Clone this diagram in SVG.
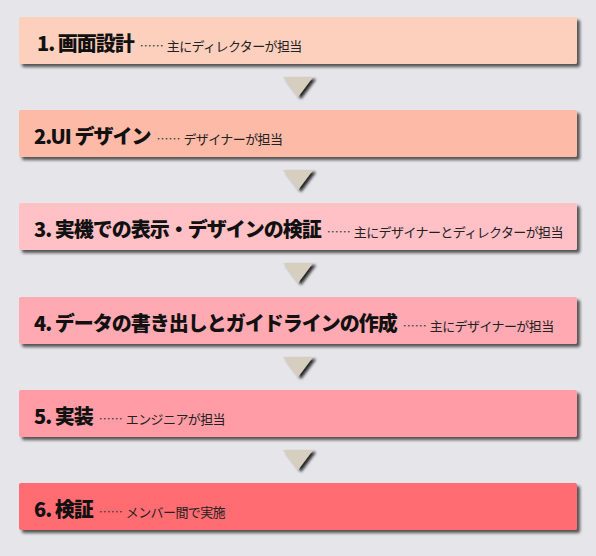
<svg xmlns="http://www.w3.org/2000/svg" width="596" height="556" viewBox="0 0 596 556">
<style>
.t{font-family:"Noto Sans CJK JP","Noto Sans",sans-serif;fill:#111}
.h{font-size:20px;font-weight:900;letter-spacing:-1px}
.d{font-size:12px;font-weight:400;fill:#333}
.s{font-size:13px;font-weight:400;fill:#222;letter-spacing:-0.6px}
.arr{fill:#d6cfbf}
</style>
<defs>
<filter id="sh" x="-5%" y="-20%" width="112%" height="150%">
<feDropShadow dx="3" dy="3" stdDeviation="1.6" flood-color="#222" flood-opacity="0.75"/>
</filter>
<filter id="ash" x="-30%" y="-30%" width="180%" height="180%">
<feDropShadow dx="3" dy="2" stdDeviation="1.5" flood-color="#111" flood-opacity="0.9"/>
</filter>
</defs>
<rect width="596" height="556" fill="#e5e5ea"/>
<g id="connectors">
<polygon class="arr" filter="url(#ash)" points="283,77 313,77 298,97"/>
<polygon class="arr" filter="url(#ash)" points="283,170 313,170 298,190"/>
<polygon class="arr" filter="url(#ash)" points="283,263 313,263 298,283"/>
<polygon class="arr" filter="url(#ash)" points="283,357 313,357 298,377"/>
<polygon class="arr" filter="url(#ash)" points="283,450 313,450 298,470"/>
</g>
<g id="step1">
<rect x="19" y="17" width="558" height="47" rx="2" fill="#fdcfbd" filter="url(#sh)"/>
<text class="t" x="37" y="51"><tspan class="h">1. 画面設計</tspan><tspan class="d" dx="6">……</tspan><tspan class="s" dx="3">主にディレクターが担当</tspan></text>
</g>
<g id="step2">
<rect x="19" y="110" width="558" height="47" rx="2" fill="#fdbaa6" filter="url(#sh)"/>
<text class="t" x="34" y="144"><tspan class="h">2.UI デザイン</tspan><tspan class="d" dx="6">……</tspan><tspan class="s" dx="3">デザイナーが担当</tspan></text>
</g>
<g id="step3">
<rect x="19" y="203" width="558" height="47" rx="2" fill="#ffc0c6" filter="url(#sh)"/>
<text class="t" x="34" y="237"><tspan class="h">3. 実機での表示・デザインの検証</tspan><tspan class="d" dx="6">……</tspan><tspan class="s" dx="3">主にデザイナーとディレクターが担当</tspan></text>
</g>
<g id="step4">
<rect x="19" y="297" width="558" height="47" rx="2" fill="#ffa9b2" filter="url(#sh)"/>
<text class="t" x="34" y="331"><tspan class="h">4. データの書き出しとガイドラインの作成</tspan><tspan class="d" dx="6">……</tspan><tspan class="s" dx="3">主にデザイナーが担当</tspan></text>
</g>
<g id="step5">
<rect x="19" y="390" width="558" height="47" rx="2" fill="#ff9ca5" filter="url(#sh)"/>
<text class="t" x="34" y="424"><tspan class="h">5. 実装</tspan><tspan class="d" dx="6">……</tspan><tspan class="s" dx="3">エンジニアが担当</tspan></text>
</g>
<g id="step6">
<rect x="19" y="483" width="558" height="47" rx="2" fill="#ff6c71" filter="url(#sh)"/>
<text class="t" x="34" y="517"><tspan class="h">6. 検証</tspan><tspan class="d" dx="6">……</tspan><tspan class="s" dx="3">メンバー間で実施</tspan></text>
</g>
</svg>
